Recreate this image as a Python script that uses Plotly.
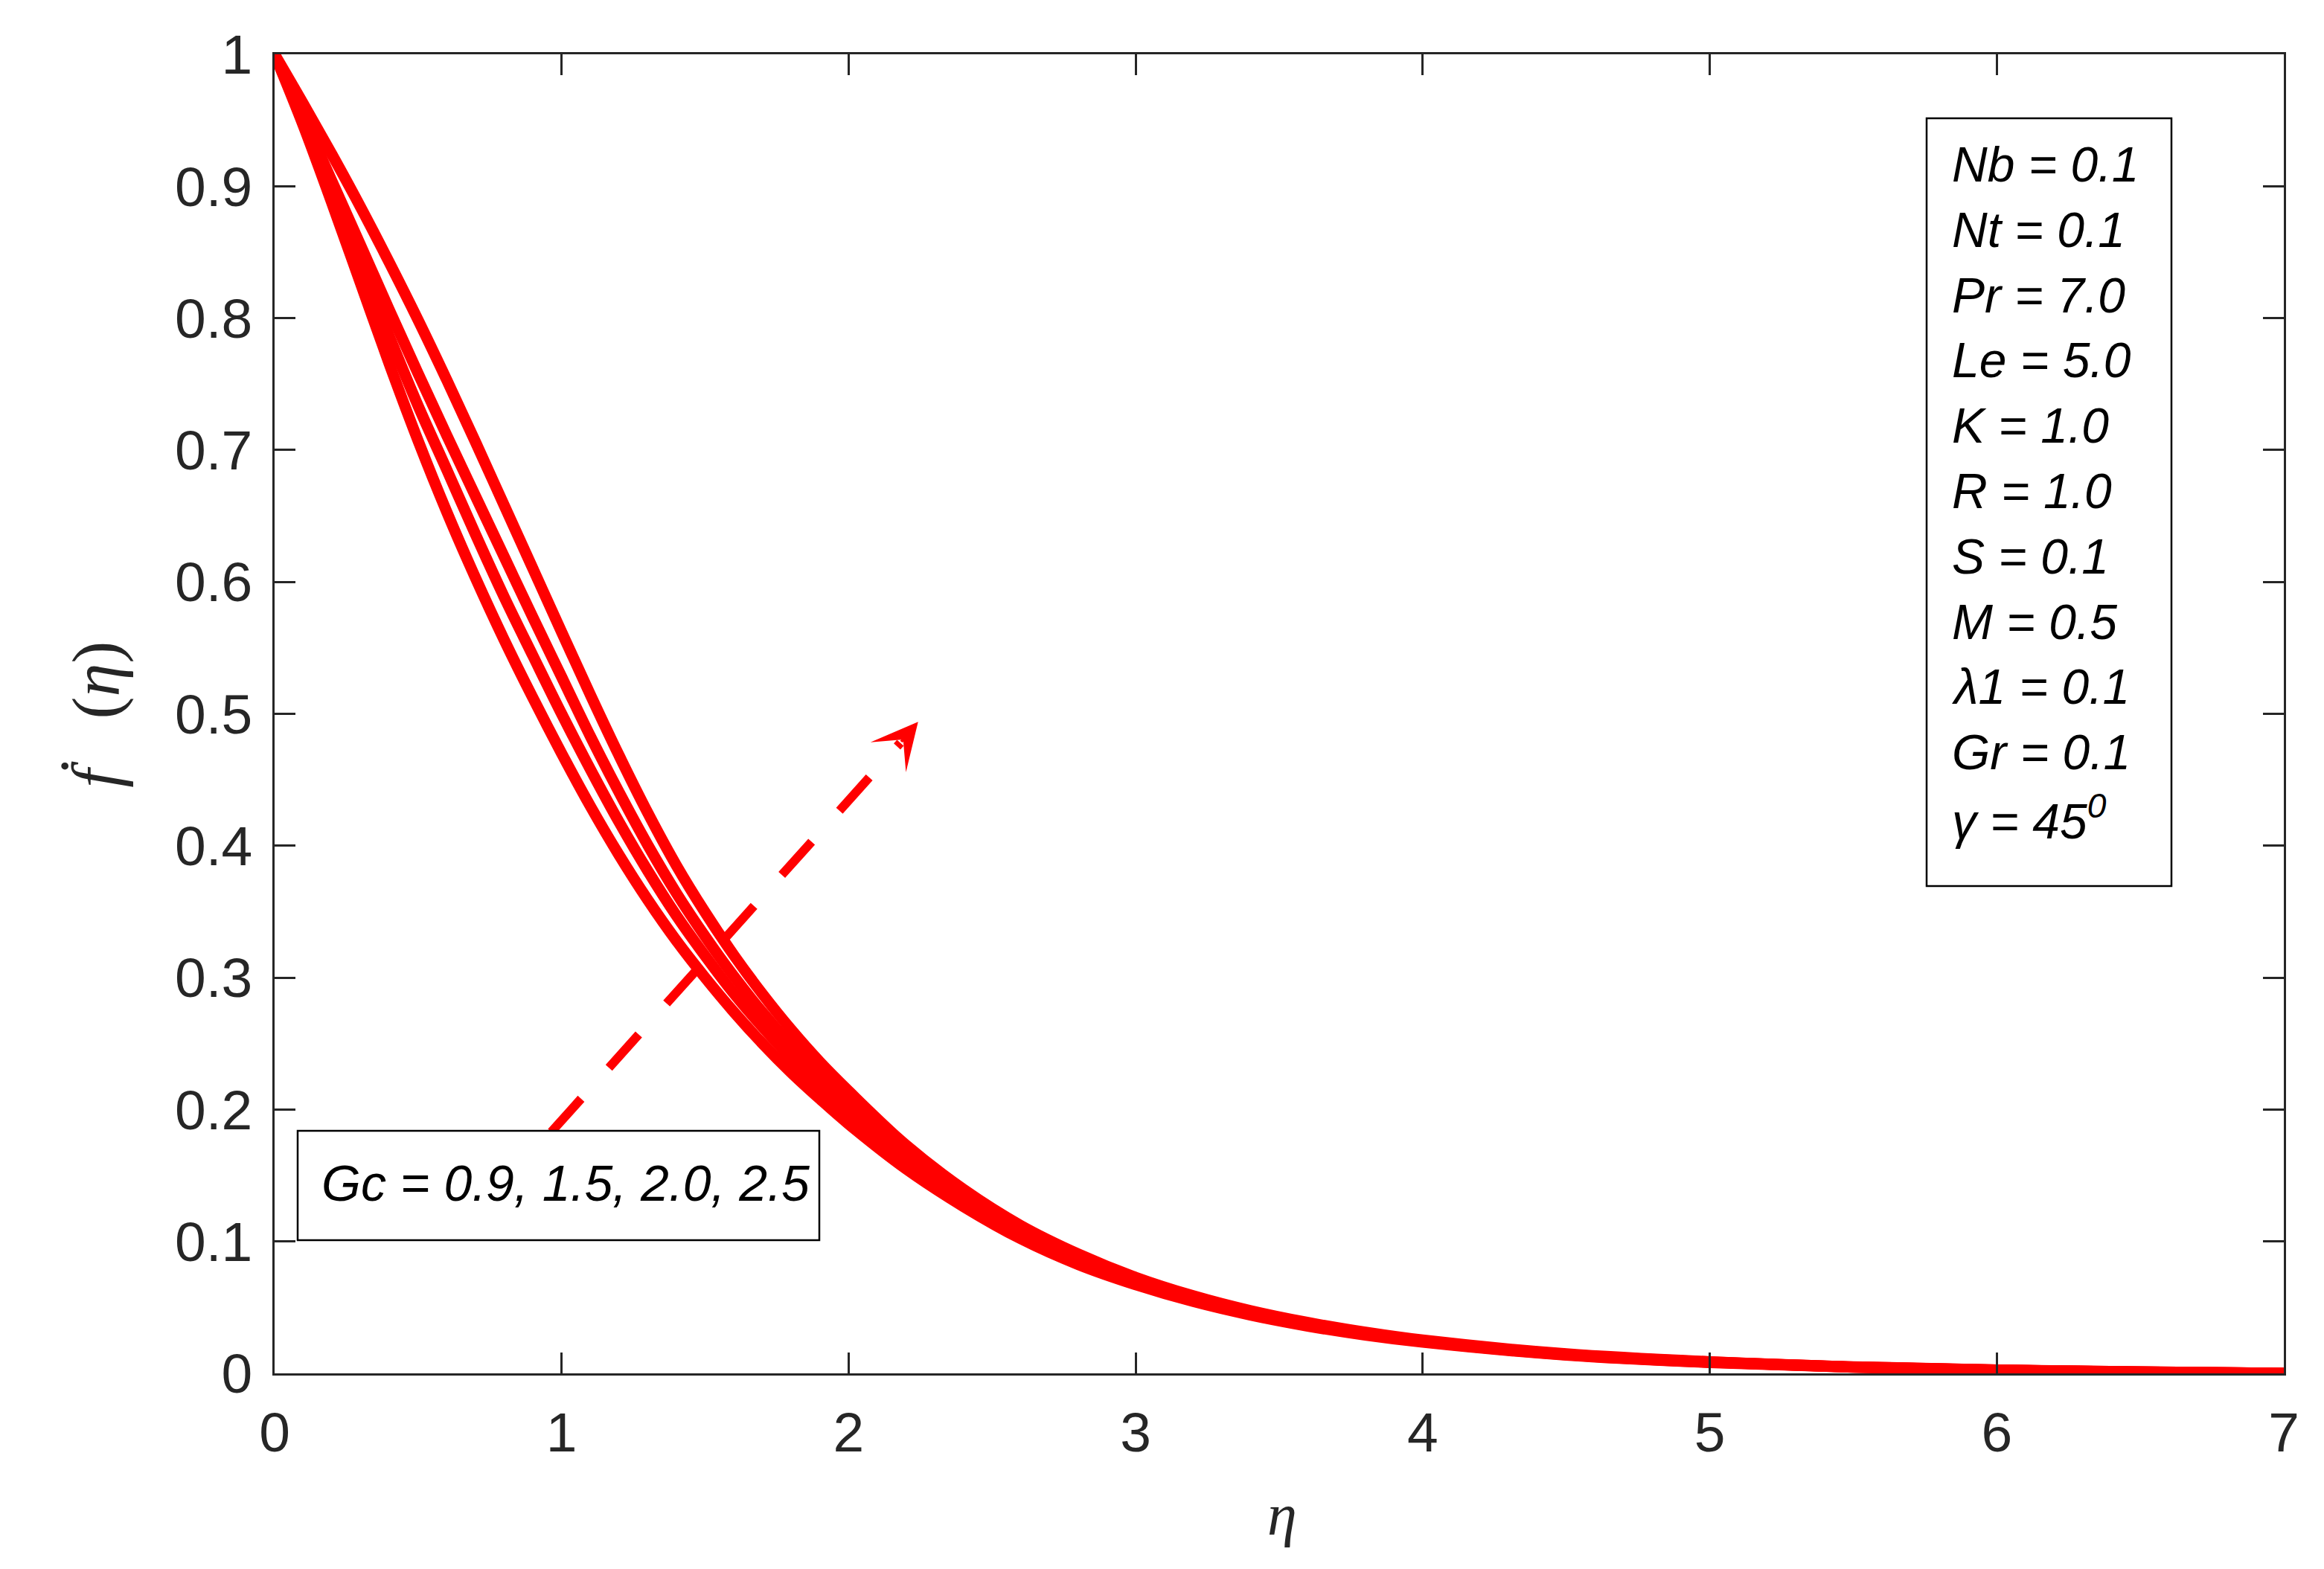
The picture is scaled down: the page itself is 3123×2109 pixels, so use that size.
import plotly.graph_objects as go

# similarity variable and velocity profiles f'(eta), one list per Gc value
eta = [0, 0.1, 0.2, 0.3, 0.4, 0.5, 0.6, 0.7, 0.8, 0.9, 1.0, 1.1, 1.2, 1.3, 1.4,
       1.5, 1.6, 1.7, 1.8, 1.9, 2.0, 2.2, 2.4, 2.6, 2.8, 3.0, 3.2, 3.4, 3.6,
       3.8, 4.0, 4.5, 5.0, 5.5, 6.0, 6.5, 7.0]

gc_09 = [1.0, 0.946, 0.887, 0.826, 0.765, 0.707, 0.653, 0.603, 0.556, 0.512,
         0.470, 0.430, 0.393, 0.359, 0.328, 0.300, 0.274, 0.250, 0.228, 0.208,
         0.189, 0.155, 0.1265, 0.102, 0.0825, 0.0672, 0.0545, 0.0442, 0.0358,
         0.029, 0.0236, 0.0138, 0.0082, 0.0046, 0.0024, 0.0010, 0.0]
gc_15 = [1.0, 0.950, 0.896, 0.8405, 0.786, 0.7335, 0.685, 0.636, 0.5885, 0.544,
         0.500, 0.458, 0.418, 0.381, 0.347, 0.3165, 0.288, 0.2625, 0.239, 0.217,
         0.197, 0.161, 0.1308, 0.1053, 0.0851, 0.069, 0.0559, 0.0453, 0.0367,
         0.0297, 0.0241, 0.0141, 0.0084, 0.0047, 0.0025, 0.0010, 0.0]
gc_20 = [1.0, 0.9526, 0.9037, 0.855, 0.806, 0.758, 0.711, 0.665, 0.619, 0.573,
         0.528, 0.483, 0.4406, 0.4006, 0.364, 0.3312, 0.301, 0.2736, 0.2485, 0.2256,
         0.2048, 0.166, 0.1346, 0.1082, 0.0875, 0.0707, 0.0572, 0.0462, 0.0375,
         0.0304, 0.0246, 0.0144, 0.0086, 0.0048, 0.0025, 0.0011, 0.0]
gc_25 = [1.0, 0.9625, 0.924, 0.884, 0.842, 0.7985, 0.753, 0.706, 0.658, 0.610,
         0.562, 0.5145, 0.4685, 0.425, 0.385, 0.3495, 0.317, 0.2875, 0.2605, 0.236,
         0.214, 0.173, 0.1395, 0.112, 0.0905, 0.0728, 0.0588, 0.0475, 0.0385,
         0.0312, 0.0252, 0.0148, 0.0088, 0.005, 0.0026, 0.0011, 0.0]

x_ticks = [0, 1, 2, 3, 4, 5, 6, 7]
y_ticks = [0, 0.1, 0.2, 0.3, 0.4, 0.5, 0.6, 0.7, 0.8, 0.9, 1]
y_tick_labels = ["0", "0.1", "0.2", "0.3", "0.4", "0.5", "0.6", "0.7", "0.8", "0.9", "1"]

gc_label = "Gc = 0.9, 1.5, 2.0, 2.5"
params = ["Nb = 0.1", "Nt = 0.1", "Pr = 7.0", "Le = 5.0", "K = 1.0", "R = 1.0",
          "S = 0.1", "M = 0.5", "λ1 = 0.1", "Gr = 0.1", "γ = 45<sup>0</sup>"]

# page size and plot area in page pixels (page body adds an 8px offset)
W, H = 3115, 2101
OFF = 8
L, R, T, B = 369, 3069, 73, 1846
INK = "#262626"
RED = "#ff0000"


def px_x(x):
    return (x - L) / (R - L)


def px_y(y):
    return (B - y) / (B - T)


fig = go.Figure()
for ys in [gc_09, gc_15, gc_20, gc_25]:
    fig.add_trace(go.Scatter(x=eta, y=ys, mode="lines",
                             line=dict(color=RED, width=15, shape="spline", smoothing=1.0),
                             showlegend=False, hoverinfo="skip"))

# dashed arrow showing increasing Gc
arrow_start = (0.964, 0.183)
arrow_end = (2.18, 0.478)
arrow_tip = (2.242, 0.494)
fig.add_trace(go.Scatter(x=[arrow_start[0], arrow_end[0]], y=[arrow_start[1], arrow_end[1]],
                         mode="lines", line=dict(color=RED, width=12, dash="60px,56px"),
                         showlegend=False, hoverinfo="skip"))
fig.add_annotation(x=arrow_tip[0], y=arrow_tip[1], ax=arrow_end[0], ay=arrow_end[1],
                   xref="x", yref="y", axref="x", ayref="y", text="",
                   showarrow=True, arrowhead=3, arrowwidth=4, arrowsize=2.6, arrowcolor=RED)

# Gc box
fig.add_shape(type="rect", xref="paper", yref="paper",
              x0=px_x(400), x1=px_x(1101), y0=px_y(1667), y1=px_y(1520),
              line=dict(color="black", width=2.5), fillcolor="white", layer="above")
fig.add_annotation(x=px_x(430), y=px_y(1590), xref="paper", yref="paper",
                   xanchor="left", yanchor="middle", showarrow=False,
                   text="<i>" + gc_label + "</i>",
                   font=dict(family="Liberation Sans", size=68, color="black"))

# parameter box
fig.add_shape(type="rect", xref="paper", yref="paper",
              x0=px_x(2589), x1=px_x(2918), y0=px_y(1191), y1=px_y(159),
              line=dict(color="black", width=2.5), fillcolor="white", layer="above")
for i, p in enumerate(params):
    fig.add_annotation(x=px_x(2621), y=px_y(221 + i * 87.8), xref="paper", yref="paper",
                       xanchor="left", yanchor="middle", showarrow=False,
                       text="<i>" + p + "</i>",
                       font=dict(family="Liberation Sans", size=66, color="black"))

# axis titles
fig.add_annotation(x=px_x(1723), y=px_y(2036), xref="paper", yref="paper",
                   xanchor="center", yanchor="middle",
                   showarrow=False, text="<i>η</i>",
                   font=dict(family="Liberation Serif", size=80, color=INK))
fig.add_annotation(x=px_x(130), y=px_y(960), xref="paper", yref="paper",
                   xanchor="center", yanchor="middle",
                   showarrow=False, textangle=-90,
                   text="<i>ḟ</i>\u00a0\u00a0\u00a0(<i>η</i>)",
                   font=dict(family="Liberation Serif", size=90, color=INK))

axis_common = dict(ticks="inside", ticklen=28, tickwidth=2.5, tickcolor=INK,
                   showline=True, linecolor=INK, linewidth=2.5, mirror="ticks",
                   showgrid=False, zeroline=False,
                   tickfont=dict(family="Liberation Sans", size=75, color=INK))

fig.update_xaxes(range=[0, 7], tickvals=x_ticks, ticklabelstandoff=12, **axis_common)
fig.update_yaxes(range=[0, 1], tickvals=y_ticks, ticktext=y_tick_labels,
                 ticklabelstandoff=12, **axis_common)

fig.update_layout(width=W, height=H, autosize=False,
                  margin=dict(l=L - OFF, r=W - (R - OFF), t=T - OFF, b=H - (B - OFF)),
                  plot_bgcolor="white", paper_bgcolor="white")

fig.write_html("out.html")
